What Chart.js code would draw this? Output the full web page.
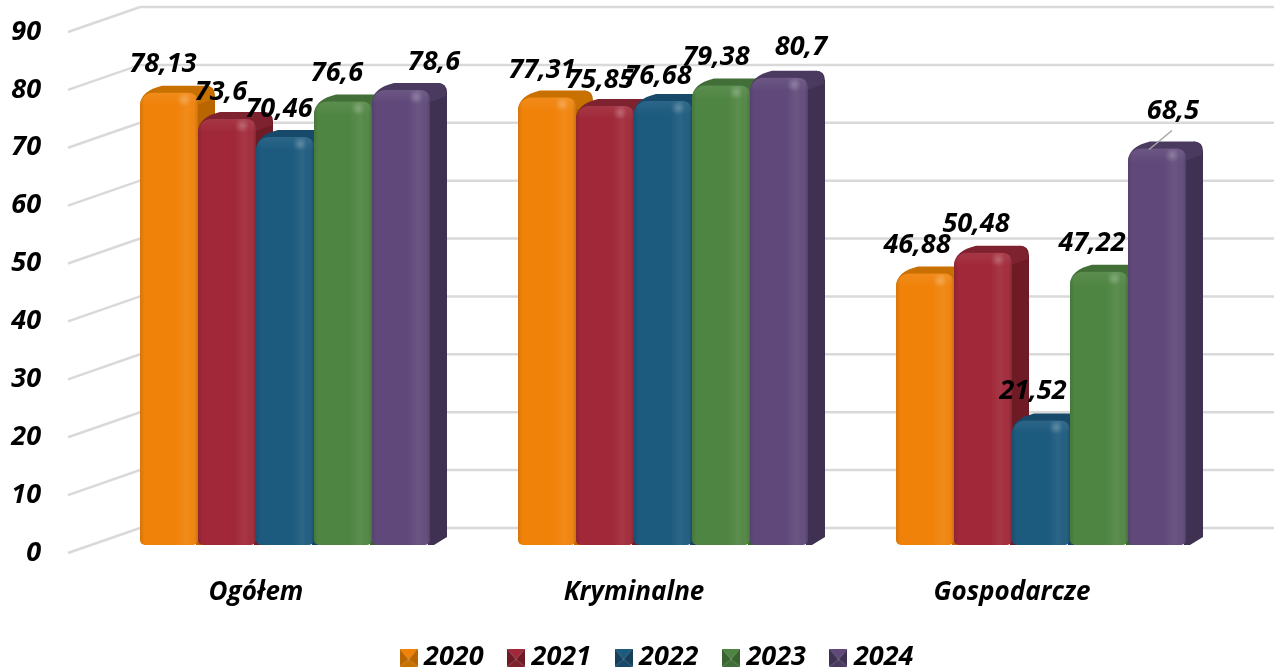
<!DOCTYPE html>
<html lang="pl">
<head>
<meta charset="utf-8">
<title>Ogółem, Kryminalne, Gospodarcze</title>
<script src="https://cdn.jsdelivr.net/npm/chart.js@4/dist/chart.umd.min.js"></script>
<style>
    html, body { margin: 0; padding: 0; background: #fff; overflow: hidden; }
    canvas { display: block; }
</style>
</head>
<body>
<canvas id="results-chart" width="1280" height="670"></canvas>
<script>
const categories = ["Ogółem", "Kryminalne", "Gospodarcze"];
const years = ["2020", "2021", "2022", "2023", "2024"];
const values2020 = [78.13, 77.31, 46.88];
const values2021 = [73.6, 75.85, 50.48];
const values2022 = [70.46, 76.68, 21.52];
const values2023 = [76.6, 79.38, 47.22];
const values2024 = [78.6, 80.7, 68.5];
const yTicks = [0, 10, 20, 30, 40, 50, 60, 70, 80, 90];

const seriesValues = [values2020, values2021, values2022, values2023, values2024];
const frontColors = ["#F08209", "#A02838", "#1C5A7E", "#4F8542", "#60497A"];
const sideColors = ["#B96500", "#6E1B26", "#153F5A", "#39632F", "#3F3152"];
const capColors = ["#C87000", "#7F2230", "#17496A", "#426F38", "#4A3A60"];

const fontFamily = "'Open Sans', sans-serif";
const labelFont = "italic bold 27px " + fontFamily;

// 3d look: wall is behind the bars, tick labels are in front of them
const depthX = 17;
const depthY = 8;
const wallRise = 17;
const floorDrop = 8;
const pxPerUnit = 528 / 91.384;
const unitsDrop = floorDrop / pxPerUnit;

// manually moved data labels in the original, [series][category] -> [dx, dy]
const labelMoves = {
    "0,0": [-6, -28], "1,0": [-6, -27], "2,0": [-6, -28], "3,0": [-6, -28], "4,0": [33, -28],
    "0,1": [-5, -27], "1,1": [-5, -26], "2,1": [-5, -25], "3,1": [-5, -28], "4,1": [22, -31],
    "0,2": [-8, -28], "1,2": [-7, -28], "2,2": [-8, -29], "3,2": [-7, -28], "4,2": [16, -37]
};

function tintedSwatch(front, side, cap) {
    const c = document.createElement("canvas");
    c.width = 18;
    c.height = 18;
    const g = c.getContext("2d");
    const tri = (color, pts) => {
        g.fillStyle = color;
        g.beginPath();
        pts.forEach((p, i) => (i ? g.lineTo(p[0], p[1]) : g.moveTo(p[0], p[1])));
        g.closePath();
        g.fill();
    };
    tri(front, [[0, 0], [18, 0], [9, 11]]);
    tri(side, [[0, 0], [9, 11], [0, 18]]);
    tri(side, [[18, 0], [9, 11], [18, 18]]);
    tri(cap, [[0, 18], [9, 11], [18, 18]]);
    return c;
}

const swatches = years.map((y, i) => tintedSwatch(frontColors[i], sideColors[i], capColors[i]));

const wallGrid = {
    id: "wallGrid",
    beforeDatasetsDraw(chart) {
        const ctx = chart.ctx;
        const y = chart.scales.y;
        ctx.save();
        ctx.strokeStyle = "#D9D9D9";
        ctx.lineWidth = 2.5;
        yTicks.forEach(v => {
            const py = y.getPixelForValue(v);
            ctx.beginPath();
            ctx.moveTo(68, py + floorDrop);
            ctx.lineTo(140, py - wallRise);
            ctx.lineTo(1274, py - wallRise);
            ctx.stroke();
        });
        ctx.restore();
    }
};

function drawDepth(ctx, bar, i) {
    const l = bar.x - bar.width / 2;
    const r = bar.x + bar.width / 2;
    const top = bar.y;
    const base = bar.base;
    ctx.save();
    ctx.fillStyle = sideColors[i];
    ctx.beginPath();
    ctx.moveTo(r - 2, base);
    ctx.lineTo(r + 4, base);
    ctx.lineTo(r + depthX, base - depthY);
    ctx.lineTo(r + depthX, top + 3);
    ctx.quadraticCurveTo(r + depthX, top - depthY + 1, r + 8, top - depthY + 1);
    ctx.lineTo(r - 2, top);
    ctx.closePath();
    ctx.fill();
    ctx.fillStyle = capColors[i];
    ctx.beginPath();
    ctx.moveTo(l, top + 12);
    ctx.quadraticCurveTo(l + 1, top - 2, l + 22, top - depthY + 1);
    ctx.lineTo(r + 8, top - depthY + 1);
    ctx.quadraticCurveTo(r + depthX - 1, top - depthY + 1, r + depthX - 1, top + 6);
    ctx.lineTo(r, top + 12);
    ctx.closePath();
    ctx.fill();
    ctx.restore();
}

function drawSheen(ctx, bar) {
    const l = bar.x - bar.width / 2;
    const top = bar.y;
    const w = bar.width;
    const h = bar.base - top;
    ctx.save();
    ctx.beginPath();
    ctx.roundRect(l, top, w, h, [13, 9, 5, 5]);
    ctx.clip();
    const sheen = ctx.createLinearGradient(l, 0, l + w, 0);
    sheen.addColorStop(0, "rgba(0,0,0,0.1)");
    sheen.addColorStop(0.08, "rgba(0,0,0,0)");
    sheen.addColorStop(0.62, "rgba(255,255,255,0)");
    sheen.addColorStop(0.8, "rgba(255,255,255,0.07)");
    sheen.addColorStop(0.9, "rgba(255,255,255,0.03)");
    sheen.addColorStop(1, "rgba(0,0,0,0.15)");
    ctx.fillStyle = sheen;
    ctx.fillRect(l, top, w, h);
    const bevel = ctx.createLinearGradient(0, top, 0, top + 14);
    bevel.addColorStop(0, "rgba(255,255,255,0.07)");
    bevel.addColorStop(1, "rgba(255,255,255,0)");
    ctx.fillStyle = bevel;
    ctx.fillRect(l, top, w, 14);
    const glow = ctx.createRadialGradient(l + w * 0.76, top + 7, 0, l + w * 0.76, top + 7, 7);
    glow.addColorStop(0, "rgba(255,255,255,0.22)");
    glow.addColorStop(1, "rgba(255,255,255,0)");
    ctx.fillStyle = glow;
    ctx.fillRect(l + w * 0.76 - 7, top, 14, 14);
    ctx.restore();
}

// later years must overlap earlier ones, the library draws them the other way round
const barDepth = {
    id: "barDepth",
    beforeDatasetDraw() {
        return false;
    },
    afterDatasetsDraw(chart) {
        const ctx = chart.ctx;
        years.forEach((year, i) => {
            const meta = chart.getDatasetMeta(i);
            meta.data.forEach(bar => drawDepth(ctx, bar, i));
            meta.controller.draw();
            meta.data.forEach(bar => drawSheen(ctx, bar));
        });
    }
};

const valueLabels = {
    id: "valueLabels",
    afterDraw(chart) {
        const ctx = chart.ctx;
        ctx.save();
        chart.data.datasets.forEach((ds, s) => {
            chart.getDatasetMeta(s).data.forEach((bar, c) => {
                const move = labelMoves[s + "," + c];
                const tx = bar.x + move[0];
                const ty = bar.y + move[1];
                // leader line of the moved label
                if (s === 4 && c === 2) {
                    ctx.strokeStyle = "#A6A6A6";
                    ctx.lineWidth = 1.5;
                    ctx.beginPath();
                    ctx.moveTo(bar.x - 8, bar.y + 1);
                    ctx.lineTo(bar.x + 15, bar.y - 18);
                    ctx.stroke();
                }
                ctx.fillStyle = "#000";
                ctx.font = labelFont;
                ctx.textAlign = "center";
                ctx.textBaseline = "middle";
                ctx.fillText(String(ds.data[c]).replace(".", ","), tx, ty);
            });
        });
        ctx.restore();
    }
};

// tick padding also ends up as margin above and below the plot, drop it
function noMargins(scale) {
    scale.paddingTop = 0;
    scale.paddingBottom = 0;
    scale.paddingLeft = 0;
    scale.paddingRight = 0;
}

function createResultsChart() {
    const canvas = document.getElementById("results-chart");
    return new Chart(canvas.getContext("2d"), {
        type: "bar",
        data: {
            labels: categories,
            datasets: years.map((year, i) => ({
                label: year,
                data: seriesValues[i],
                backgroundColor: frontColors[i],
                borderWidth: 0,
                borderSkipped: false,
                borderRadius: { topLeft: 13, topRight: 9, bottomLeft: 5, bottomRight: 5 },
                inflateAmount: 0,
                yAxisID: "y"
            }))
        },
        options: {
            responsive: false,
            animation: false,
            categoryPercentage: 290 / 378,
            barPercentage: 1,
            layout: { padding: { left: 0, right: -40, top: 24, bottom: -11 } },
            scales: {
                x: {
                    grid: { display: false, drawTicks: false },
                    border: { display: false },
                    ticks: {
                        color: "#000",
                        font: { family: fontFamily, size: 26, weight: "bold", style: "italic" },
                        padding: 24,
                        labelOffset: -29,
                        maxRotation: 0
                    },
                    afterFit(scale) {
                        scale.height = 60.5;
                        noMargins(scale);
                    }
                },
                yFront: {
                    position: "left",
                    min: 0,
                    max: 90 + unitsDrop,
                    afterBuildTicks(scale) { scale.ticks = yTicks.map(v => ({ value: v })); },
                    grid: { display: false, drawTicks: false },
                    border: { display: false },
                    ticks: {
                        color: "#000",
                        font: { family: fontFamily, size: 27, weight: "bold", style: "italic" },
                        padding: 55,
                        autoSkip: false
                    },
                    afterFit(scale) {
                        scale.width = 96;
                        noMargins(scale);
                    }
                },
                y: {
                    position: "right",
                    min: -unitsDrop,
                    max: 90,
                    afterBuildTicks(scale) { scale.ticks = yTicks.map(v => ({ value: v })); },
                    grid: { display: false, drawTicks: false },
                    border: { display: false },
                    ticks: { display: false },
                    afterFit(scale) {
                        scale.width = 90;
                        noMargins(scale);
                    }
                }
            },
            plugins: {
                title: { display: false },
                tooltip: { enabled: false },
                legend: {
                    position: "bottom",
                    labels: {
                        color: "#000",
                        font: { family: fontFamily, size: 27, weight: "bold", style: "italic" },
                        usePointStyle: true,
                        boxWidth: 4,
                        boxHeight: 4,
                        padding: 30.5,
                        generateLabels: () => years.map((year, i) => ({
                            text: year,
                            pointStyle: swatches[i],
                            fontColor: "#000",
                            lineWidth: 0,
                            datasetIndex: i
                        }))
                    }
                }
            }
        },
        plugins: [wallGrid, barDepth, valueLabels]
    });
}

const resultsChart = createResultsChart();
</script>
</body>
</html>
